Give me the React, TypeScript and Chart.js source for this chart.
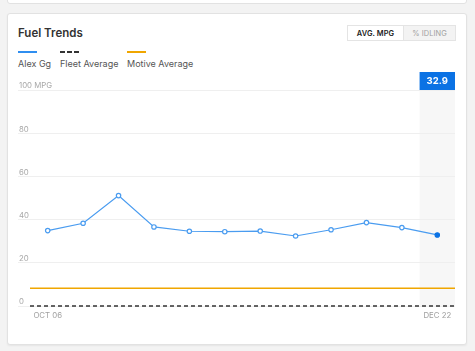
import React, { useEffect, useRef } from "react";
import { Chart, registerables } from "chart.js";

Chart.register(...registerables);

const categories = ["OCT 06", "OCT 13", "OCT 20", "OCT 27", "NOV 03", "NOV 10", "NOV 17", "NOV 24", "DEC 01", "DEC 08", "DEC 15", "DEC 22"];
const alexValues = [34.9, 38.3, 51.1, 36.6, 34.6, 34.4, 34.7, 32.4, 35.3, 38.6, 36.3, 32.9];
const fleetAverage = 0;
const motiveAverage = 8.2;
const yTicks = [0, 20, 40, 60, 80, 100];
const badgeValue = "32.9";

const FONT = "Inter, 'Noto Sans', sans-serif";
const BLUE = "#4a9cf0";
const DARK_BLUE = "#0b72e4";
const ORANGE = "#f0a600";

const highlightPlugin = {
  id: "highlight",
  beforeDraw(chart: any) {
    const { ctx, chartArea, scales } = chart;
    const xs = scales.x;
    const last = categories.length - 1;
    const band = (xs.getPixelForValue(1) - xs.getPixelForValue(0));
    const cx = xs.getPixelForValue(last);
    const left = cx - band / 2;
    ctx.save();
    ctx.fillStyle = "#f7f7f7";
    ctx.fillRect(left, chartArea.top, band, chartArea.bottom - chartArea.top);
    ctx.fillStyle = DARK_BLUE;
    ctx.fillRect(left, chartArea.top - 18, band, 18);
    ctx.fillStyle = "#ffffff";
    ctx.font = `bold 9.5px ${FONT}`;
    ctx.textAlign = "center";
    ctx.textBaseline = "middle";
    ctx.fillText(badgeValue, cx, chartArea.top - 9);
    ctx.restore();
  },
};

export default function App() {
  const ref = useRef<HTMLCanvasElement | null>(null);

  useEffect(() => {
    document.body.style.margin = "0";
    document.body.style.background = "#f3f3f3";
    const canvas = ref.current;
    if (!canvas) return;
    const chart = new Chart(canvas, {
      type: "line",
      data: {
        labels: categories,
        datasets: [
          {
            label: "Fleet Average",
            data: [{ x: 0, y: fleetAverage }, { x: 1, y: fleetAverage }],
            xAxisID: "x2",
            borderColor: "#333333",
            borderWidth: 1.6,
            borderDash: [4, 3],
            pointRadius: 0,
            clip: false as any,
          },
          {
            label: "Motive Average",
            data: [{ x: 0, y: motiveAverage }, { x: 1, y: motiveAverage }],
            xAxisID: "x2",
            borderColor: ORANGE,
            borderWidth: 1.6,
            pointRadius: 0,
          },
          {
            label: "Alex Gg",
            data: alexValues,
            xAxisID: "x",
            borderColor: BLUE,
            borderWidth: 1.2,
            pointRadius: 2.2,
            pointBorderWidth: 1.2,
            pointBorderColor: alexValues.map((_, i) => (i === alexValues.length - 1 ? DARK_BLUE : BLUE)),
            pointBackgroundColor: alexValues.map((_, i) => (i === alexValues.length - 1 ? DARK_BLUE : "#ffffff")),
            tension: 0,
          },
        ],
      },
      options: {
        animation: false,
        responsive: false,
        events: [],
        layout: { padding: { top: 90, left: 18, right: 20, bottom: 25 } },
        plugins: { legend: { display: false }, tooltip: { enabled: false } },
        scales: {
          x: {
            type: "category",
            offset: true,
            grid: { display: false, drawTicks: false },
            border: { display: false },
            afterFit(scale: any) { scale.height = 20; },
            ticks: {
              autoSkip: false,
              maxRotation: 0,
              padding: 5,
              color: "#a0a0a0",
              font: { family: FONT, size: 7.8 },
              callback: (_v: any, i: number) => (i === 0 || i === categories.length - 1 ? categories[i] : ""),
            },
          },
          x2: {
            type: "linear",
            display: false,
            min: 0,
            max: 1,
          },
          y: {
            min: 0,
            max: 100,
            afterBuildTicks(scale: any) { scale.ticks = yTicks.map((v) => ({ value: v })); },
            afterFit(scale: any) { scale.width = 12; },
            grid: { color: "#efefef", lineWidth: 1, drawTicks: true, tickLength: 12, tickColor: "#efefef" },
            border: { display: false },
            ticks: {
              mirror: true,
              padding: -11,
              labelOffset: -4,
              color: "#a8a8a8",
              font: { family: FONT, size: 7.8 },
              callback: (v: any) => (v === 100 ? "100 MPG" : String(v)),
            },
          },
        },
      },
      plugins: [highlightPlugin],
    } as any);
    return () => chart.destroy();
  }, []);

  const legendItem = (label: string, swatch: React.ReactNode, left: number) => (
    <div style={{ position: "absolute", left, top: 51 }}>
      {swatch}
      <div style={{ marginTop: 5, fontSize: 9, color: "#555", fontFamily: FONT, whiteSpace: "nowrap" }}>{label}</div>
    </div>
  );

  return (
    <div style={{ position: "relative", width: 475, height: 351, overflow: "hidden", background: "#f3f3f3", fontFamily: FONT }}>
      <div style={{ position: "absolute", left: 7, top: -10, width: 458, height: 12, background: "#fff", border: "1px solid #e2e2e2", borderRadius: 3 }} />
      <div style={{ position: "absolute", left: 7, top: 13, width: 458, height: 330, background: "#fff", border: "1px solid #e2e2e2", borderRadius: 3, boxShadow: "0 1px 2px rgba(0,0,0,0.06)" }} />
      <div style={{ position: "absolute", left: 18, top: 26, fontSize: 11.5, fontWeight: 600, color: "#333" }}>Fuel Trends</div>
      <div style={{ position: "absolute", left: 347, top: 25, width: 107, height: 14, border: "1px solid #e4e4e4", display: "flex", fontSize: 7.4, letterSpacing: 0.1 }}>
        <div style={{ width: 55, background: "#fff", color: "#222", fontWeight: 600, display: "flex", alignItems: "center", justifyContent: "center", borderRight: "1px solid #e4e4e4" }}>AVG. MPG</div>
        <div style={{ flex: 1, background: "#f3f3f3", color: "#a0a0a0", display: "flex", alignItems: "center", justifyContent: "center" }}>% IDLING</div>
      </div>
      {legendItem("Alex Gg", <div style={{ width: 19, height: 2, background: "#2f8ef0" }} />, 18)}
      {legendItem("Fleet Average", <div style={{ width: 19, height: 2, backgroundImage: "linear-gradient(to right, #333 0 5px, transparent 5px 7px, #333 7px 12px, transparent 12px 14px, #333 14px 19px)" }} />, 60)}
      {legendItem("Motive Average", <div style={{ width: 19, height: 2, background: ORANGE }} />, 127)}
      <canvas ref={ref} width={475} height={351} style={{ position: "absolute", left: 0, top: 0, width: 475, height: 351 }} />
    </div>
  );
}
